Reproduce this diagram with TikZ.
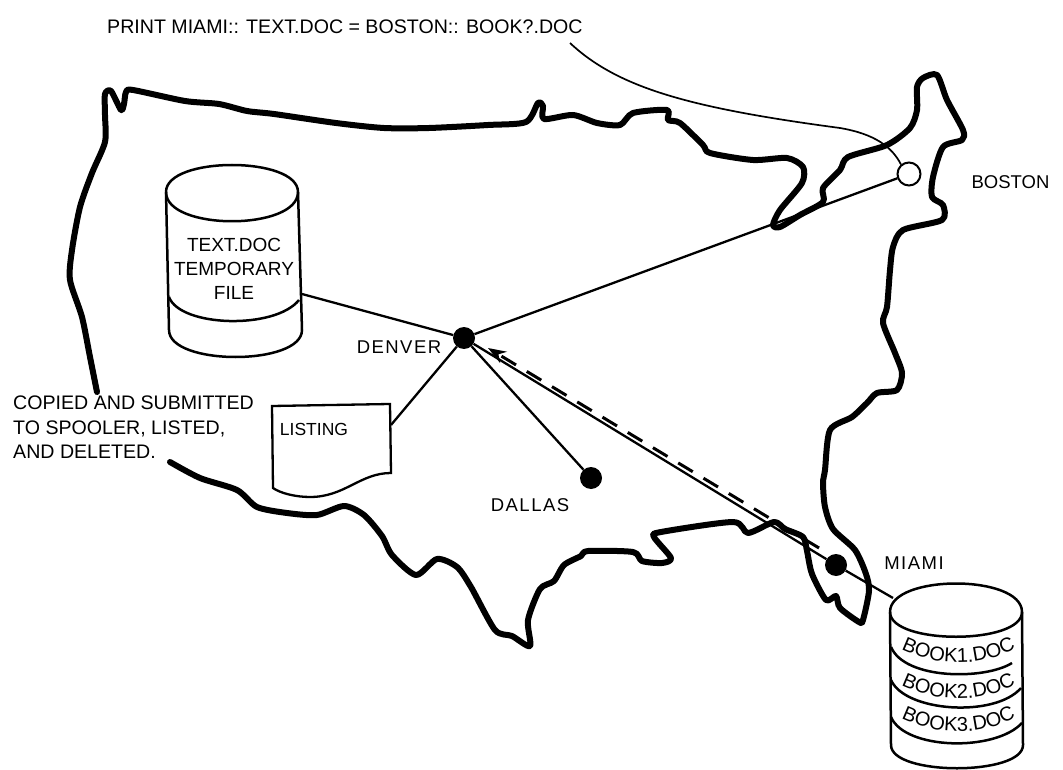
\documentclass[tikz,border=0pt]{standalone}
\usepackage{fontspec}
\setmainfont{Liberation Sans}
\newfontfamily\placefont[LetterSpace=8]{Liberation Sans}
\usetikzlibrary{arrows.meta,decorations.text}

\begin{document}
\begin{tikzpicture}[
    x=1pt,
    y=-1pt,
    coast/.style={
        line width=6pt,
        line cap=round,
        line join=round
    },
    site/.style={
        circle,
        fill=black,
        minimum size=22pt,
        inner sep=0pt
    },
    open site/.style={
        circle,
        draw,
        fill=white,
        line width=2pt,
        minimum size=23pt,
        inner sep=0pt
    },
    link/.style={
        line width=2.3pt
    },
    wire/.style={
        line width=1.7pt
    },
    transfer/.style={
        -{Stealth[length=18pt,width=13pt]},
        line width=3pt,
        dash pattern=on 17pt off 12.5pt
    },
    band/.style={
        line width=2.5pt,
        line join=round
    },
    place/.style={
        inner sep=0pt,
        font=\fontsize{18.5}{24}\placefont,
        align=center
    },
    plain label/.style={
        inner sep=0pt,
        font=\fontsize{18.5}{24}\selectfont,
        align=center
    },
    note/.style={
        inner sep=0pt,
        font=\fontsize{19.6}{24.5}\selectfont,
        align=left
    },
    book label/.style={
        decorate,
        decoration={
            text along path,
            text align=center,
            text={|\fontsize{20}{24}\placefont|#1}
        }
    }
]
\useasboundingbox (0,0) rectangle (1063,770);

\draw[coast] plot[smooth,tension=.45] coordinates {
    (97,392) (90,357) (82,317) (70,280) (72,250) (80,207) (92,173) (105,142)
    (105,115) (105,94) (111,91) (121,110) (124,104) (126,92) (133,90) (185,101)
    (219,104) (247,111) (274,114) (336,123) (384,128) (429,128) (488,125) (526,122)
    (538,103) (543,106) (544,119) (573,115) (597,123) (620,125) (633,113) (667,110)
    (668,120) (680,123) (703,145) (710,153) (753,160) (787,158) (803,167) (802,183)
    (780,210) (773,225) (780,227) (800,215) (823,202) (823,188) (840,170) (848,157)
    (887,145) (910,128) (917,110) (917,87) (923,78) (937,75) (947,100) (963,130)
    (962,140) (943,147) (933,177) (932,197) (943,205) (942,220) (903,230) (893,247)
    (890,270) (887,307) (883,323) (895,353) (902,373) (897,390) (877,393) (867,403)
    (852,417) (830,430) (825,470) (823,483) (825,507) (833,529) (855,550) (866,574)
    (869,591) (863,620) (859,622) (840,608) (836,596) (826,600) (812,574) (807,551)
    (803,537) (785,529) (774,522) (748,533) (733,522) (661,532) (654,537) (671,558)
    (662,563) (642,561) (633,552) (588,551) (581,556) (564,565) (554,581) (540,589)
    (528,620) (530,646) (512,636) (495,630) (471,587) (457,567) (437,559) (416,575)
    (392,555) (382,536) (364,515) (344,506) (317,515) (287,513) (257,507) (237,490)
    (200,478) (170,462)
};

\node[site] (denver) at (464,338) {};
\node[site] (dallas) at (591,478) {};
\node[site] (miami) at (836,565) {};
\node[open site] (boston) at (909,174) {};

\draw[band] (166,192) .. controls (166,156) and (298,156) .. (298,192)
    .. controls (298,231) and (166,231) .. cycle;
\draw[band] (166,192) -- (169,330) .. controls (169,366) and (302,366) .. (302,330) -- (298,192);
\draw[band] (169,297) .. controls (180,327) and (275,330) .. (299,300);
\coordinate (tempport) at (302,294);

\draw[fill=white,band] (890,612) .. controls (890,574) and (1022,574) .. (1022,612)
    .. controls (1022,645) and (890,645) .. cycle;
\draw[band] (890,612) -- (891,745) .. controls (891,776) and (1023,776) .. (1023,745) -- (1022,612);
\draw[band] (891,647) .. controls (905,680) and (985,680) .. (1012,663);
\draw[band] (891,680) .. controls (905,712) and (995,718) .. (1021,688);
\draw[band] (891,717) .. controls (905,750) and (995,752) .. (1022,723);
\coordinate (bookport) at (893,598);

\path[book label=BOOK1.DOC] (895,646) .. controls (935,668) and (985,668) .. (1022,645);
\path[book label=BOOK2.DOC] (895,682) .. controls (935,704) and (985,704) .. (1022,681);
\path[book label=BOOK3.DOC] (895,715) .. controls (935,737) and (985,737) .. (1022,714);

\draw[link] (tempport) -- (denver);
\draw[link] (denver) -- (boston);
\draw[link] (denver) -- (dallas);
\draw[link] (denver) -- (miami);
\draw[link] (miami) -- (bookport);

\coordinate (printtail) at (570,43);
\draw[wire] (printtail) .. controls (618,88) and (690,108) .. (840,128)
    .. controls (875,134) and (892,147) .. (boston.130);

\coordinate (transferstart) at (819,548);
\coordinate (transferend) at (488,348);
\draw[transfer] (transferstart) -- (transferend);

\draw[link] (272,406) -- (390,404) -- (391,473)
    .. controls (360,473) and (345,497) .. (310,497)
    .. controls (295,497) and (280,493) .. (273,488) -- cycle;
\coordinate (listingport) at (391,425);
\draw[link] (denver) -- (listingport);

\node[note,anchor=west] (command) at (107,27) {PRINT MIAMI:: TEXT.DOC = BOSTON:: BOOK?.DOC};
\node[plain label] (bostonlabel) at (1010.5,182) {BOSTON};
\node[place] (denverlabel) at (399,347) {DENVER};
\node[place] (dallaslabel) at (530,505) {DALLAS};
\node[place] (miamilabel) at (914,563) {MIAMI};
\node[plain label,font=\fontsize{19}{24}\selectfont] (tempfilelabel) at (234,269) {TEXT.DOC\\TEMPORARY\\FILE};
\node[plain label,font=\fontsize{17.5}{24}\selectfont] (listinglabel) at (314,429) {LISTING};
\node[note,anchor=west] (spoolnote) at (13,427.5) {COPIED AND SUBMITTED\\TO SPOOLER, LISTED,\\AND DELETED.};

\end{tikzpicture}
\end{document}
